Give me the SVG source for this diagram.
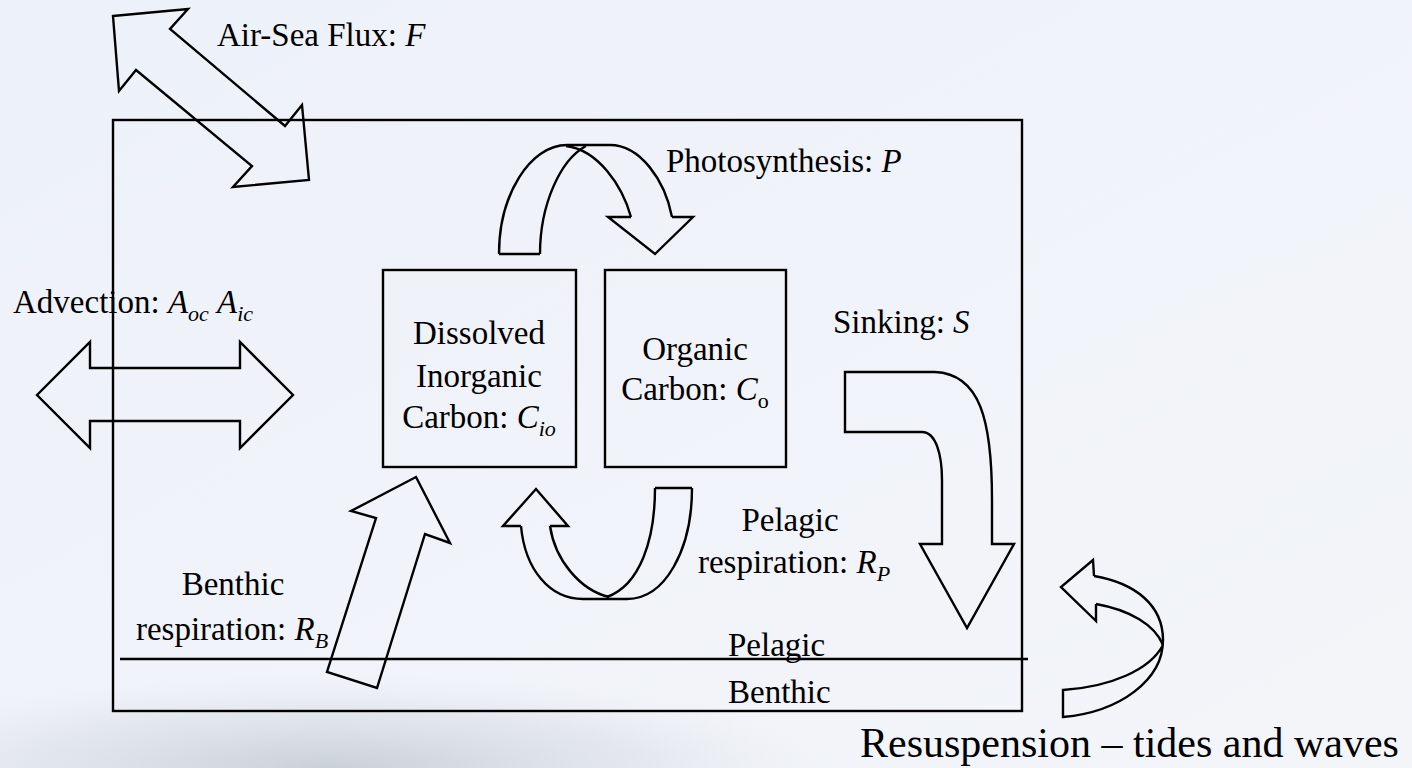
<svg xmlns="http://www.w3.org/2000/svg" width="1412" height="768" viewBox="0 0 1412 768">
<defs>
<linearGradient id="bg" x1="0" y1="0" x2="1" y2="1">
<stop offset="0" stop-color="#edf1f9"/>
<stop offset="1" stop-color="#f3f5f9"/>
</linearGradient>
<radialGradient id="cloud" cx="0.5" cy="0.5" r="0.5">
<stop offset="0" stop-color="#c3c9d3" stop-opacity="0.85"/>
<stop offset="0.6" stop-color="#d3d8e0" stop-opacity="0.45"/>
<stop offset="1" stop-color="#e6eaf0" stop-opacity="0"/>
</radialGradient>
<style>
.ln{fill:none;stroke:#000;stroke-width:2.4;stroke-linejoin:miter}
.t{font-family:"Liberation Serif","Times New Roman",serif;font-size:33px;fill:#000}
.i{font-style:italic}
.s{font-size:22px}
</style>
</defs>
<rect width="1412" height="768" fill="url(#bg)"/>
<ellipse cx="330" cy="768" rx="520" ry="95" fill="url(#cloud)"/>

<g id="system-box">
<rect class="ln" x="113" y="120" width="909" height="591"/>
</g>
<g id="divider">
<line class="ln" x1="120" y1="659" x2="1028" y2="659"/>
<text class="t" x="728" y="656">Pelagic</text>
<text class="t" x="728" y="703">Benthic</text>
</g>

<g id="dic">
<rect class="ln" x="383" y="270" width="193" height="197"/>
<text class="t" text-anchor="middle" x="479" y="344">Dissolved</text>
<text class="t" text-anchor="middle" x="479" y="387">Inorganic</text>
<text class="t" text-anchor="middle" x="479" y="428">Carbon: <tspan class="i">C</tspan><tspan class="i s" dy="8">io</tspan></text>
</g>
<g id="oc">
<rect class="ln" x="605" y="270" width="181" height="197"/>
<text class="t" text-anchor="middle" x="695" y="360">Organic</text>
<text class="t" text-anchor="middle" x="695" y="400">Carbon: <tspan class="i">C</tspan><tspan class="s" dy="8">o</tspan></text>
</g>

<g id="connectors">
<g id="air-sea-flux">
<polygon class="ln" points="113,16 188,9 170,29 285,126 302,105 309,180 233,187 252,166 136,70 119,91"/>
</g>
<g id="advection">
<polygon class="ln" points="37,395 90,342 90,368 240,368 240,342 293,395 240,448 240,421 90,421 90,448"/>
</g>
<g id="photosynthesis">
<path class="ln" d="M499,254 L540,254"/>
<path class="ln" d="M499,254 C499,195 530,145 567,145 L610,145 C640,145 665,180 672,217"/>
<path class="ln" d="M672,217 L693,217 L655,254 L608,217 L631,217"/>
<path class="ln" d="M631,217 C622,185 598,150 566,146"/>
<path class="ln" d="M540,254 C540,205 560,160 586,146"/>
</g>
<g id="pelagic-respiration">
<path class="ln" d="M655,488 L692,488"/>
<path class="ln" d="M692,488 C692,550 665,599 627,599 L583,599 C550,599 525,570 521,526"/>
<path class="ln" d="M521,526 L503,526 L536,489 L568,526 L550,526"/>
<path class="ln" d="M550,526 C555,560 580,590 609,597"/>
<path class="ln" d="M655,488 C655,540 640,585 607,597"/>
</g>
<g id="benthic-respiration">
<polygon class="ln" points="416,477 450,543 425,534 377,688 327,672 376,518 351,511"/>
</g>
<g id="sinking">
<path class="ln" d="M845,372 L935,372 C980,374 992,420 992,500 L992,544 L1014,544 L967,628 L920,544 L942,544 L942,480 C942,455 936,432 922,432 L845,432 Z"/>
</g>
<g id="resuspension">
<path class="ln" d="M1094,576 L1093,560 L1061,587 L1096,621 L1096,604"/>
<path class="ln" d="M1094,576 C1135,583 1163,605 1163,640 C1163,680 1120,712 1063,717 L1063,690 C1110,687 1150,670 1163,645"/>
<path class="ln" d="M1096,604 C1130,610 1155,625 1163,645"/>
</g>
</g>

<g id="labels">
<text class="t" x="217" y="46">Air-Sea Flux: <tspan class="i">F</tspan></text>
<text class="t" x="666" y="172">Photosynthesis: <tspan class="i">P</tspan></text>
<text class="t" x="13" y="313">Advection: <tspan class="i">A</tspan><tspan class="i s" dy="8">oc</tspan><tspan dy="-8"> </tspan><tspan class="i">A</tspan><tspan class="i s" dy="8">ic</tspan></text>
<text class="t" x="833" y="333">Sinking: <tspan class="i">S</tspan></text>
<text class="t" text-anchor="middle" x="790" y="531">Pelagic</text>
<text class="t" text-anchor="middle" x="794" y="573">respiration: <tspan class="i">R</tspan><tspan class="i s" dy="8">P</tspan></text>
<text class="t" text-anchor="middle" x="233" y="595">Benthic</text>
<text class="t" text-anchor="middle" x="232" y="640">respiration: <tspan class="i">R</tspan><tspan class="i s" dy="8">B</tspan></text>
<text class="t" x="860" y="757" style="font-size:42px">Resuspension – tides and waves</text>
</g>
</svg>
